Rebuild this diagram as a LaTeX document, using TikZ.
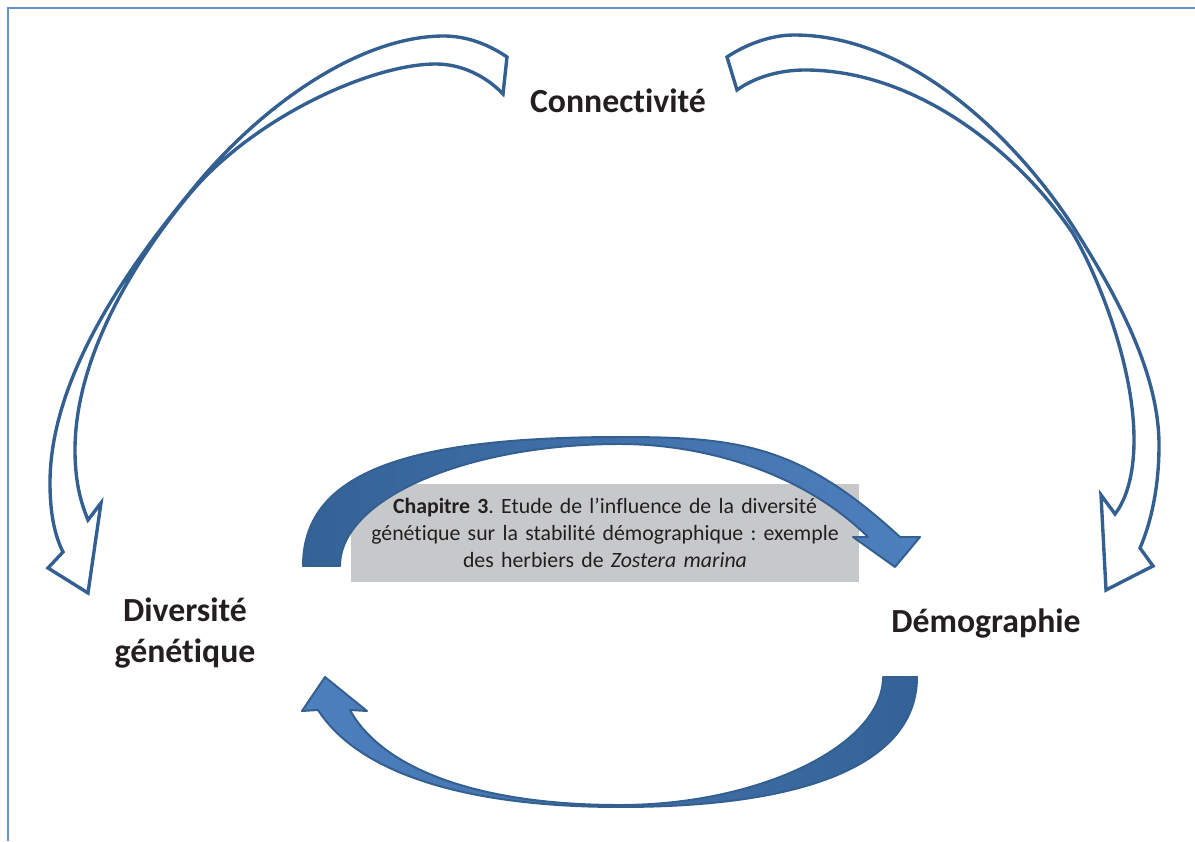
\documentclass[tikz,border=0pt]{standalone}
\usepackage{fontspec}
\setmainfont{Carlito}[Ligatures=NoCommon]
\definecolor{frameBlue}{RGB}{100,145,205}
\definecolor{arrowLine}{RGB}{52,95,145}
\definecolor{arrowDark}{RGB}{52,98,150}
\definecolor{arrowLight}{RGB}{78,128,190}
\definecolor{boxGray}{RGB}{199,200,202}
\definecolor{textDark}{RGB}{35,31,32}
\frenchspacing

\begin{document}
\begin{tikzpicture}
[x=0.025cm, y=-0.025cm,
  labelDecorate/.style={font=\fontsize{24}{28.8}\selectfont\bfseries, text=textDark, align=center, inner sep=0pt},%
  boxDecorate/.style={fill=boxGray, minimum width=12.7cm, minimum height=2.425cm, text width=12.5cm,
    align=center, inner sep=0pt, font=\fontsize{15.5}{19.2}\selectfont, text=textDark},%
  hollowArrow/.style={draw=arrowLine, fill=white, line width=2.4pt, line join=miter},%
  solidArrow/.style={draw=arrowLine, line width=1.4pt, line join=round}]
\useasboundingbox (0,0) rectangle (1195,841);
%% frame
\draw[frameBlue, line width=1.2pt] (8,841) -- (8,8) -- (1195,8);
%% labels
\foreach \nodename/\x/\y/\txt in {conn/618/112/Connectivité, demo/986/632/Démographie}
{
  \node (\nodename) at (\x,\y) [labelDecorate, anchor=base] {\txt};
}
\node (div) at (185,633) [labelDecorate] {Diversité\\génétique};
\node (chap) at (605,533) [boxDecorate] {\textbf{Chapitre 3}. Etude de l’influence de la diversité\\
  génétique sur la stabilité démographique : exemple\\des herbiers de \textit{Zostera marina}};
%% hollow arrows from Connectivité
\draw[hollowArrow] (507,57) .. controls (488,44) and (466,36) .. (444,36)
  .. controls (360,36) and (261,105) .. (192,190)
  .. controls (135,259) and (50,373) .. (50,483)
  .. controls (50,520) and (57,540) .. (63,552)
  -- (48,568) -- (88,593) -- (101,503) -- (88,520)
  .. controls (82,505) and (75,485) .. (75,450)
  .. controls (75,360) and (131,265) .. (188,196)
  .. controls (251,119) and (370,64) .. (436,64)
  .. controls (460,64) and (485,75) .. (503,94) -- cycle;
\draw[hollowArrow] (727,57) .. controls (745,45) and (770,35) .. (794,35)
  .. controls (914,35) and (1020,144) .. (1074,228)
  .. controls (1106,279) and (1159,365) .. (1159,445)
  .. controls (1159,490) and (1150,525) .. (1140,548)
  -- (1153,566) -- (1106,590) -- (1101,495) -- (1115,514)
  .. controls (1126,500) and (1134,475) .. (1134,440)
  .. controls (1134,360) and (1093,266) .. (1072,232)
  .. controls (1016,150) and (915,70) .. (805,70)
  .. controls (780,70) and (755,77) .. (737,90) -- cycle;
%% shaded arrows between the two labels
\draw[solidArrow, left color=arrowDark, right color=arrowLight] (340,566) -- (303,566)
  .. controls (303,476) and (398,437) .. (620,437)
  .. controls (740,437) and (800,445) .. (900,537)
  -- (920,537) -- (895,567) -- (853,537) -- (868,537)
  .. controls (800,470) and (700,444) .. (620,444)
  .. controls (466,444) and (340,499) .. (340,566) -- cycle;
\draw[solidArrow, left color=arrowLight, right color=arrowDark] (883,677) -- (917,677)
  .. controls (917,761) and (813,807) .. (620,807)
  .. controls (470,807) and (360,775) .. (318,710)
  -- (302,711) -- (325,677) -- (367,711) -- (350,710)
  .. controls (380,765) and (470,805) .. (620,805)
  .. controls (760,805) and (883,745) .. (883,677) -- cycle;
\end{tikzpicture}
\end{document}
